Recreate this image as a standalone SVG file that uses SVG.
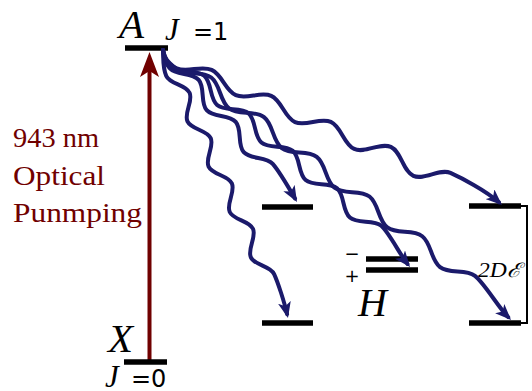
<svg xmlns="http://www.w3.org/2000/svg" width="532" height="391" viewBox="0 0 532 391">
<style>
.lvl{stroke:#000;stroke-width:5.5;fill:none}
.wave{stroke:#1b1a6b;stroke-width:4;fill:none;stroke-linecap:round;marker-end:url(#ah)}
.it{font-family:"Liberation Serif",serif;font-style:italic;fill:#000}
.sans{font-family:"DejaVu Sans",sans-serif;fill:#000}
.red{font-family:"Liberation Serif",serif;font-size:28px;fill:#700000}
</style>
<defs>
<marker id="ah" markerUnits="userSpaceOnUse" markerWidth="17" markerHeight="13" refX="12" refY="6.5" orient="auto">
<path d="M0,0 L16,6.5 L0,13 L4,6.5 Z" fill="#1b1a6b"/>
</marker>
</defs>
<rect width="532" height="391" fill="#fff"/>

<g id="pump">
<line x1="149.5" y1="360" x2="149.5" y2="68" stroke="#700000" stroke-width="4"/>
<path d="M149.5,52 L159,77 L149.5,71 L140,77 Z" fill="#700000"/>
<text class="red" x="13" y="147" textLength="86" lengthAdjust="spacingAndGlyphs">943 nm</text>
<text class="red" x="13" y="185" textLength="92" lengthAdjust="spacingAndGlyphs">Optical</text>
<text class="red" x="13" y="222" textLength="129" lengthAdjust="spacingAndGlyphs">Punmping</text>
</g>

<g id="A">
<line class="lvl" x1="125" y1="48" x2="168" y2="48"/>
<text class="it" x="119" y="38" font-size="41">A</text>
<text class="it" x="165" y="40" font-size="31">J</text>
<text class="sans" x="193" y="40" font-size="24">=1</text>
</g>

<g id="X">
<line class="lvl" x1="124" y1="362" x2="167" y2="362"/>
<text class="it" x="108" y="352" font-size="41">X</text>
<text class="it" x="105" y="387" font-size="31">J</text>
<text class="sans" x="131" y="387" font-size="24">=0</text>
</g>

<g id="H">
<line class="lvl" x1="262" y1="207" x2="313" y2="207"/>
<line class="lvl" x1="262" y1="323" x2="313" y2="323"/>
<line class="lvl" x1="366" y1="259" x2="418" y2="259"/>
<line class="lvl" x1="366" y1="270" x2="418" y2="270"/>
<line class="lvl" x1="469" y1="206" x2="521" y2="206"/>
<line class="lvl" x1="469" y1="323" x2="521" y2="323"/>
<text class="it" x="358" y="316" font-size="40">H</text>
<text class="sans" x="352" y="260" font-size="18" text-anchor="middle">−</text>
<text class="sans" x="352" y="282" font-size="18" text-anchor="middle">+</text>
<path d="M521,206 H527 V323 H521" stroke="#000" stroke-width="2" fill="none"/>
<text class="it" x="478" y="277" font-size="20" textLength="43" lengthAdjust="spacingAndGlyphs">2Dℰ</text>
</g>

<g id="connectors">
<path class="wave" d="M163,50 C165,58 166.01,63.45 176.66,68.29 S200.98,65.05 211.63,69.89 S225.19,90.34 235.84,95.18 S260.57,91.03 271.22,95.87 S284.38,117.22 295.03,122.06 S320.17,117 330.82,121.84 S343.56,144.1 354.21,148.94 S380.18,142.07 390.83,146.91 S402.74,170.99 413.39,175.83 S439.78,168.04 450.43,172.88 S485.6,190.3 499,202.3"/>
<path class="wave" d="M163,50 C164,58 162.98,60.55 169.66,68.13 S191.99,72.3 198.67,79.88 S200.01,102.56 206.69,110.14 S229.03,114.31 235.71,121.89 S237.05,144.58 243.73,152.16 S266.07,156.32 272.75,163.9 S289,188.1 295,198.5"/>
<path class="wave" d="M163,50 C163.5,60 162.52,67.88 166.32,76.04 S185.78,84.62 189.58,92.78 S183.65,113.19 187.45,121.35 S206.91,129.93 210.71,138.09 S204.79,158.51 208.59,166.67 S228.05,175.25 231.85,183.41 S225.92,203.82 229.72,211.98 S249.18,220.56 252.98,228.72 S247.06,249.14 250.86,257.3 S270.32,265.88 274.12,274.04 S284.4,302.4 287.1,314.1"/>
<path class="wave" d="M163,50 C164,58 165.04,60.62 172.87,67.53 S196.43,68.89 204.26,75.8 S209.29,98.14 217.12,105.05 S240.69,106.4 248.52,113.31 S253.54,135.65 261.37,142.56 S284.94,143.92 292.77,150.83 S297.8,173.17 305.63,180.08 S329.2,181.43 337.03,188.34 S342.06,210.68 349.89,217.59 S373.45,218.94 381.28,225.85 S400,254.6 407.5,263.9"/>
<path class="wave" d="M163,50 C164.5,58 166.9,61.47 176.29,68.75 S201.86,70.24 211.25,77.52 S219.65,101.15 229.04,108.43 S254.61,109.91 264,117.19 S272.4,140.82 281.79,148.1 S307.35,149.58 316.74,156.86 S325.14,180.48 334.53,187.76 S360.1,189.25 369.49,196.53 S377.89,220.15 387.28,227.43 S412.85,228.93 422.24,236.21 S430.64,259.82 440.03,267.1 S465.59,268.59 474.98,275.87 S498.3,307.3 508.2,317.2"/>
</g>
</svg>
